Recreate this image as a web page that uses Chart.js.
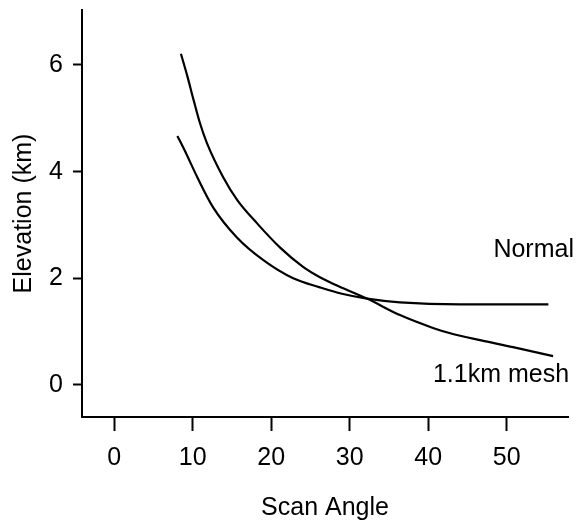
<!DOCTYPE html>
<html>
<head>
<meta charset="utf-8">
<script src="https://cdn.jsdelivr.net/npm/chart.js@4"></script>
<style>
  html, body { margin: 0; padding: 0; background: #fff; }
  #wrap { width: 579px; height: 523px; }
</style>
</head>
<body>
<div id="wrap"><canvas id="chart" width="579" height="523"></canvas></div>
<script>
// Scan angle / elevation readings for each run
const normalAngle = [8.05, 9.0, 10.6, 12.6, 15.6, 19.0, 22.8, 26.2, 29.0, 32.2, 36.4, 44.0, 55.3];
const normalElev  = [4.67, 4.39, 3.89, 3.33, 2.77, 2.34, 2.00, 1.83, 1.71, 1.62, 1.55, 1.51, 1.51];

const meshAngle = [8.5, 9.3, 10.1, 10.9, 11.8, 13.9, 15.7, 18.2, 21.1, 24.1, 26.2, 28.0, 32.2, 36.4, 40.6, 42.8, 46.6, 50.8, 55.9];
const meshElev  = [6.21, 5.80, 5.35, 4.92, 4.54, 3.89, 3.46, 3.03, 2.58, 2.21, 2.02, 1.89, 1.62, 1.31, 1.07, 0.97, 0.84, 0.71, 0.54];

const xTicks = [0, 10, 20, 30, 40, 50];
const yTicks = [0, 2, 4, 6];

const seriesNames = ['Normal', '1.1km mesh'];

const FONT = "'Liberation Sans', Arial, Helvetica, sans-serif";
const FSIZE = 25;

function toPoints(xs, ys) {
    return xs.map((x, i) => ({ x: x, y: ys[i] }));
}

// curve labels placed in data space next to the line ends
const curveLabels = {
    id: 'curveLabels',
    afterDatasetsDraw(chart) {
        const ctx = chart.ctx;
        const xs = chart.scales.x;
        const ys = chart.scales.y;
        ctx.save();
        ctx.fillStyle = '#000';
        ctx.font = FSIZE + 'px ' + FONT;
        ctx.textBaseline = 'middle';
        ctx.textAlign = 'left';
        ctx.fillText(seriesNames[0], xs.getPixelForValue(48.3), ys.getPixelForValue(2.53));
        ctx.fillText(seriesNames[1], xs.getPixelForValue(40.6), ys.getPixelForValue(0.19));
        ctx.restore();
    }
};

new Chart(document.getElementById('chart'), {
    type: 'scatter',
    data: {
        datasets: [
            {
                label: seriesNames[0],
                data: toPoints(normalAngle, normalElev),
                showLine: true,
                borderColor: '#000',
                borderWidth: 2.2,
                pointRadius: 0,
                cubicInterpolationMode: 'monotone'
            },
            {
                label: seriesNames[1],
                data: toPoints(meshAngle, meshElev),
                showLine: true,
                borderColor: '#000',
                borderWidth: 2.2,
                pointRadius: 0,
                cubicInterpolationMode: 'monotone'
            }
        ]
    },
    options: {
        responsive: false,
        animation: false,
        layout: { padding: { top: 10, right: 11, left: 0, bottom: 0 } },
        plugins: {
            legend: { display: false },
            tooltip: { enabled: false }
        },
        scales: {
            x: {
                type: 'linear',
                min: -4.1,
                max: 57.8,
                afterBuildTicks: s => { s.ticks = xTicks.map(v => ({ value: v })); },
                afterFit: s => { s.height = 106; s.paddingLeft = 0; s.paddingRight = 0; },
                border: { display: true, color: '#000', width: 2 },
                grid: { drawOnChartArea: false, drawTicks: true, tickLength: 14, tickWidth: 2, tickColor: '#000' },
                ticks: { color: '#000', font: { family: FONT, size: FSIZE }, padding: 12, maxRotation: 0 },
                title: { display: true, text: 'Scan Angle', color: '#000', font: { family: FONT, size: FSIZE }, padding: { top: 10, bottom: 0 } }
            },
            y: {
                type: 'linear',
                min: -0.6,
                max: 7.03,
                afterBuildTicks: s => { s.ticks = yTicks.map(v => ({ value: v })); },
                afterFit: s => { s.width = 82; s.paddingTop = 0; s.paddingBottom = 0; },
                border: { display: true, color: '#000', width: 2 },
                grid: { drawOnChartArea: false, drawTicks: true, tickLength: 9, tickWidth: 2, tickColor: '#000' },
                ticks: { color: '#000', font: { family: FONT, size: FSIZE }, padding: 10 },
                title: { display: true, text: 'Elevation (km)', color: '#000', font: { family: FONT, size: FSIZE }, padding: { top: 9, bottom: 4 } }
            }
        }
    },
    plugins: [curveLabels]
});
</script>
</body>
</html>
